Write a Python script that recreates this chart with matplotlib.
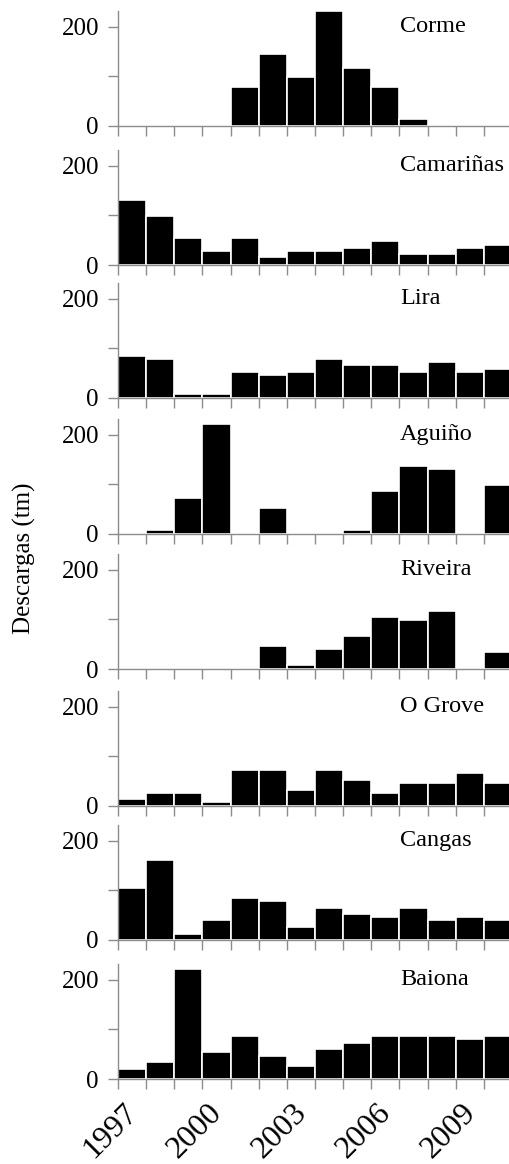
import matplotlib.pyplot as plt
import matplotlib.transforms as mtransforms

plt.rcParams['font.family'] = ['Liberation Serif', 'DejaVu Serif']

years = list(range(1997, 2011))
year_labels = [1997, 2000, 2003, 2006, 2009]

corme = [0, 0, 0, 0, 78, 145, 99, 233, 118, 79, 15, 0, 0, 0]
camarinas = [132, 99, 54, 28, 54, 16, 28, 28, 35, 48, 23, 23, 35, 41]
lira = [85, 79, 8, 8, 53, 46, 53, 79, 66, 66, 53, 72, 53, 59]
aguino = [0, 9, 73, 221, 0, 53, 0, 0, 9, 86, 138, 131, 0, 98]
riveira = [0, 0, 0, 0, 0, 46, 8, 40, 66, 105, 99, 118, 0, 34]
ogrove = [15, 27, 27, 9, 72, 72, 33, 72, 53, 27, 46, 46, 66, 46]
cangas = [104, 162, 13, 40, 85, 79, 26, 65, 52, 46, 65, 40, 46, 40]
baiona = [21, 34, 221, 54, 87, 47, 27, 60, 73, 87, 87, 87, 80, 87]

stations = ["Corme", "Camariñas", "Lira", "Aguiño", "Riveira", "O Grove", "Cangas", "Baiona"]
series = [corme, camarinas, lira, aguino, riveira, ogrove, cangas, baiona]

W, H = 510, 1164
fig = plt.figure(figsize=(W / 100, H / 100), dpi=100)

# pixel row of the zero line for each panel
zero_rows = [126, 265, 398, 534, 669, 806, 940, 1079]
ax_h = 115
ax_left = 118
ax_right = 512
grey = '#8c8c8c'

for i, (name, vals) in enumerate(zip(stations, series)):
    y0 = zero_rows[i]
    ax = fig.add_axes([ax_left / W, 1 - y0 / H, (ax_right - ax_left) / W, ax_h / H])
    ax.bar(years, vals, width=1, align='edge', color='black',
           edgecolor='white', linewidth=1.2)
    ax.set_xlim(1997, 2011)
    ax.set_ylim(0, 232)
    for s in ['top', 'right']:
        ax.spines[s].set_visible(False)
    for s in ['left', 'bottom']:
        ax.spines[s].set_color(grey)
        ax.spines[s].set_linewidth(1.0)
    ax.set_yticks([0, 100, 200])
    ax.set_yticklabels(['0', '', '200'])
    ax.set_xticks(years + [2011])
    ax.tick_params(axis='both', direction='out', color=grey, width=1.0,
                   length=7.2, labelsize=18, pad=6.5)
    if i < len(stations) - 1:
        ax.set_xticklabels([])
    else:
        ax.set_xticklabels([str(y) if y in year_labels else '' for y in years + [2011]],
                           rotation=45, ha='center', fontsize=23)
        shift = mtransforms.ScaledTranslation(-7 / 100, 0, fig.dpi_scale_trans)
        for lab in ax.get_xticklabels():
            lab.set_transform(lab.get_transform() + shift)
    ax.text((400 - ax_left) / (ax_right - ax_left), 200 / 232, name,
            transform=ax.transAxes, fontsize=17.5, ha='left', va='center')

fig.text(24 / W, 1 - 558 / H, "Descargas (tm)", rotation=90, fontsize=18,
         ha='center', va='center')

fig.savefig("out.png", dpi=100)
